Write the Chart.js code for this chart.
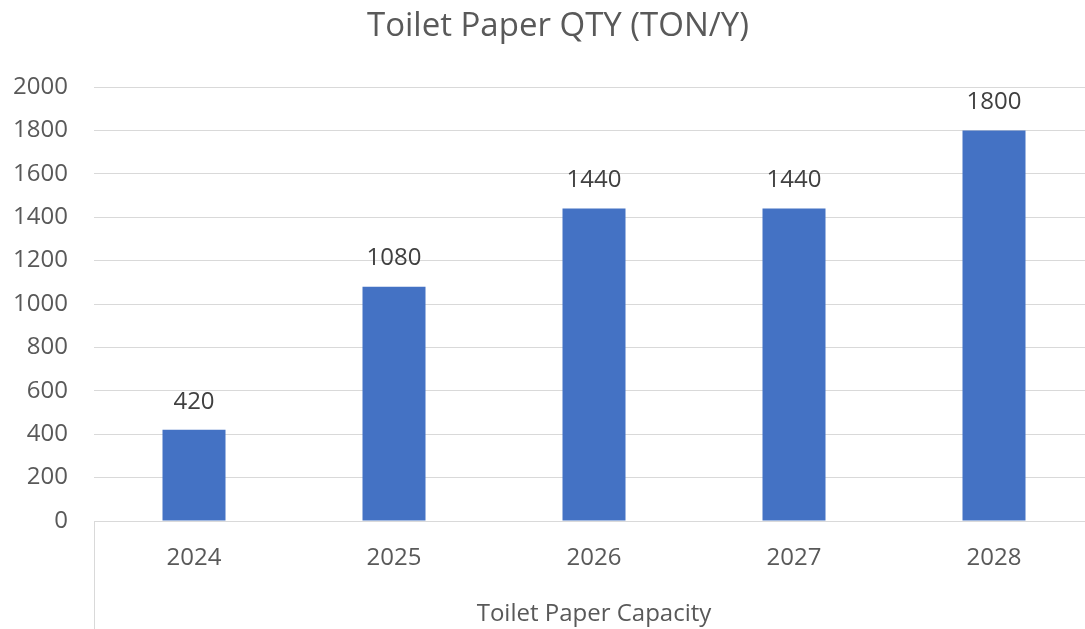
<!DOCTYPE html>
<html>
<head>
<meta charset="utf-8">
<script src="https://cdn.jsdelivr.net/npm/chart.js@4/dist/chart.umd.min.js"></script>
<style>
  html, body { margin: 0; padding: 0; background: #fff; overflow: hidden; }
  #wrap { width: 1094px; height: 629px; position: relative; }
</style>
</head>
<body>
<div id="wrap"><canvas id="chart"></canvas></div>
<script>
// ===== Data =====
const years = ['2024', '2025', '2026', '2027', '2028'];
const capacity = [420, 1080, 1440, 1440, 1800];
const yTicks = [0, 200, 400, 600, 800, 1000, 1200, 1400, 1600, 1800, 2000];

const chartTitle = 'Toilet Paper QTY (TON/Y)';
const groupLabel = 'Toilet Paper Capacity';

const FONT = '"Open Sans", "Liberation Sans", sans-serif';
const GRID = '#d9d9d9';

// title sits a bit right of the canvas centre, like the source layout
const titlePlugin = {
  id: 'topTitle',
  afterDraw(chart) {
    const ctx = chart.ctx;
    ctx.save();
    ctx.font = '33px ' + FONT;
    ctx.fillStyle = '#595959';
    ctx.textAlign = 'center';
    ctx.textBaseline = 'middle';
    ctx.fillText(chartTitle, 558, 27);
    ctx.restore();
  }
};

// value labels above each bar
const valueLabels = {
  id: 'valueLabels',
  afterDatasetsDraw(chart) {
    const ctx = chart.ctx;
    const meta = chart.getDatasetMeta(0);
    ctx.save();
    ctx.font = '24px ' + FONT;
    ctx.fillStyle = '#404040';
    ctx.textAlign = 'center';
    ctx.textBaseline = 'middle';
    meta.data.forEach((bar, i) => {
      ctx.fillText(String(capacity[i]), bar.x, bar.y - 28);
    });
    ctx.restore();
  }
};

// left border of the category axis block, running below the plot
const axisBox = {
  id: 'axisBox',
  afterDraw(chart) {
    const { ctx, chartArea } = chart;
    ctx.save();
    ctx.strokeStyle = GRID;
    ctx.lineWidth = 1;
    ctx.beginPath();
    ctx.moveTo(chartArea.left + 0.5, chartArea.bottom);
    ctx.lineTo(chartArea.left + 0.5, chart.height);
    ctx.stroke();
    ctx.restore();
  }
};

new Chart(document.getElementById('chart'), {
  type: 'bar',
  data: {
    labels: years,
    datasets: [{
      data: capacity,
      backgroundColor: '#4472c4',
      barPercentage: 0.315,
      categoryPercentage: 1.0,
    }],
  },
  options: {
    responsive: true,
    maintainAspectRatio: false,
    animation: false,
    layout: { padding: { top: 87, left: 0, right: 0, bottom: 0 } },
    plugins: {
      legend: { display: false },
      tooltip: { enabled: false },
      title: { display: false },
    },
    scales: {
      x: {
        afterFit: (scale) => { scale.height = 108; },
        grid: { display: false },
        border: { display: true, color: GRID, width: 1 },
        ticks: {
          color: '#595959',
          font: { family: FONT, size: 24 },
          padding: 15,
        },
        title: {
          display: true,
          text: groupLabel,
          color: '#595959',
          font: { family: FONT, size: 24 },
          padding: { top: 0, bottom: 0 },
        },
      },
      y: {
        min: 0,
        max: 2000,
        afterFit: (scale) => { scale.width = 94; },
        afterBuildTicks: (scale) => { scale.ticks = yTicks.map(v => ({ value: v })); },
        grid: { color: GRID, lineWidth: 1, drawTicks: false },
        border: { display: false },
        ticks: {
          color: '#595959',
          font: { family: FONT, size: 24 },
          padding: 26,
          callback: (v) => String(v),
        },
      },
    },
  },
  plugins: [titlePlugin, valueLabels, axisBox],
});
</script>
</body>
</html>
